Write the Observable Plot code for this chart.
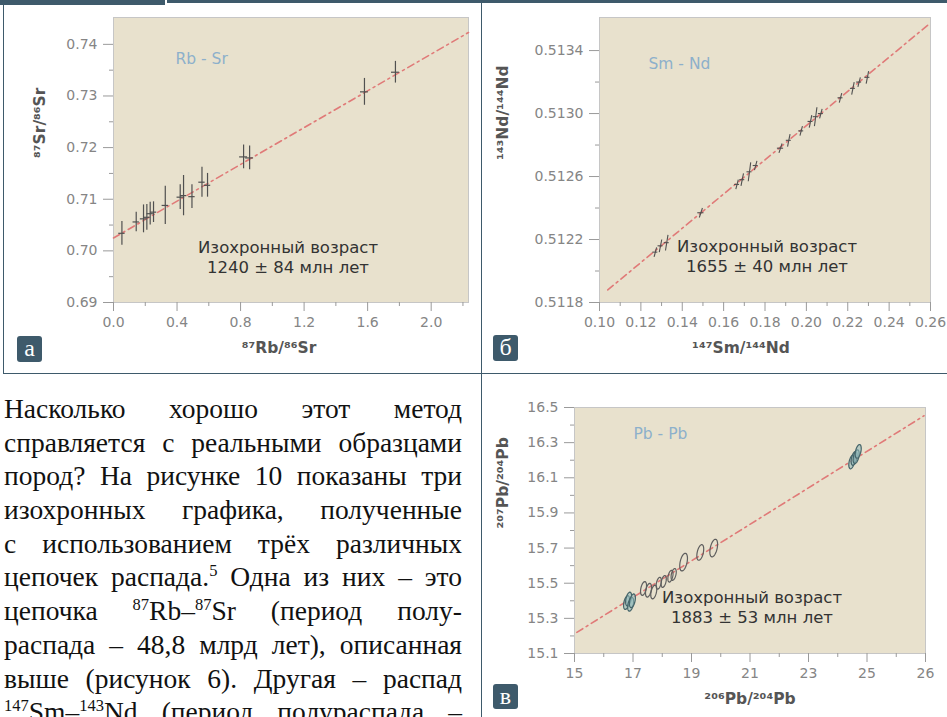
<!DOCTYPE html>
<html><head><meta charset="utf-8">
<script src="https://cdn.jsdelivr.net/npm/d3@7"></script>
<script src="https://cdn.jsdelivr.net/npm/@observablehq/plot@0.6"></script>
<style>
html,body{margin:0;padding:0;background:#fff;}
#page{position:relative;width:947px;height:717px;overflow:hidden;background:#fff;}
.bar{position:absolute;background:#3e5a6b;}
.lbl{position:absolute;width:25px;height:26px;background:#3e5a6b;border-radius:3px;color:#fff;font-family:"Liberation Serif";font-size:24px;line-height:24px;text-align:center;}
.chart{position:absolute;}
.chart svg{display:block;}
#para{position:absolute;left:4px;top:392px;width:458px;font-family:"Liberation Serif";font-size:27.5px;line-height:33.7px;color:#111;}
.ln{text-align:justify;text-align-last:justify;white-space:nowrap;height:33.7px;}
.ln sup{font-size:0.6em;line-height:0;vertical-align:baseline;position:relative;top:-0.62em;}
</style></head>
<body>
<div id="page">
  <div class="bar" style="left:0;top:0;width:165px;height:5px;"></div>
  <div class="bar" style="left:167px;top:0;width:780px;height:3px;"></div>
  <div class="bar" style="left:3px;top:0;width:1.3px;height:374px;"></div>
  <div class="bar" style="left:3px;top:373px;width:944px;height:1.3px;"></div>
  <div class="bar" style="left:481px;top:0;width:1.3px;height:717px;"></div>
  <div class="chart" id="ca" style="left:0;top:0;"></div>
  <div class="chart" id="cb" style="left:481px;top:0;"></div>
  <div class="chart" id="cc" style="left:481px;top:374px;"></div>
  <div class="lbl" style="left:17px;top:336px;">а</div>
  <div class="lbl" style="left:493px;top:335px;">б</div>
  <div class="lbl" style="left:493px;top:684px;height:25px;">в</div>
  <div id="para">
    <div class="ln">Насколько хорошо этот метод</div>
    <div class="ln">справляется с реальными образцами</div>
    <div class="ln">пород? На рисунке 10 показаны три</div>
    <div class="ln">изохронных графика, полученные</div>
    <div class="ln">с использованием трёх различных</div>
    <div class="ln">цепочек распада.<sup>5</sup> Одна из них – это</div>
    <div class="ln">цепочка <sup>87</sup>Rb–<sup>87</sup>Sr (период полу-</div>
    <div class="ln">распада – 48,8 млрд лет), описанная</div>
    <div class="ln">выше (рисунок 6). Другая – распад</div>
    <div class="ln"><sup>147</sup>Sm–<sup>143</sup>Nd (период полураспада –</div>
  </div>
</div>
<script>
// ---------- Rb-Sr ----------
const rbX    = [0.053, 0.143, 0.189, 0.210, 0.231, 0.252, 0.326, 0.420, 0.441, 0.494, 0.557, 0.592, 0.819, 0.857, 1.580, 1.775];
const rbY    = [0.7034, 0.7056, 0.7062, 0.7065, 0.7072, 0.7075, 0.7088, 0.7104, 0.7107, 0.7105, 0.7133, 0.7127, 0.7182, 0.7180, 0.7308, 0.7346];
const rbErrY = [0.0023, 0.0019, 0.0027, 0.0025, 0.0022, 0.0020, 0.0037, 0.0024, 0.0039, 0.0023, 0.0029, 0.0023, 0.0023, 0.0023, 0.0026, 0.0021];
const rbErrX = [0.02, 0.02, 0.02, 0.02, 0.02, 0.02, 0.02, 0.02, 0.02, 0.02, 0.02, 0.02, 0.025, 0.025, 0.025, 0.025];
const rbLineX = [0, 2.235];
const rbLineY = [0.7025, 0.7423];
const rbXTicks = [0, 0.4, 0.8, 1.2, 1.6, 2.0];
const rbXMinor = [0.2, 0.6, 1.0, 1.4, 1.8, 2.2];
const rbYTicks = [0.69, 0.70, 0.71, 0.72, 0.73, 0.74];
const rbYMinor = [0.695, 0.705, 0.715, 0.725, 0.735];

// ---------- Sm-Nd ----------
const smX    = [0.1270, 0.1295, 0.1325, 0.1490, 0.1665, 0.1690, 0.1725, 0.1755, 0.1875, 0.1915, 0.1975, 0.2020, 0.2045, 0.2070, 0.2165, 0.2225, 0.2255, 0.2295];
const smY    = [0.51212, 0.51216, 0.51218, 0.51237, 0.51255, 0.51258, 0.51263, 0.51267, 0.51278, 0.51283, 0.51289, 0.51295, 0.51298, 0.51300, 0.51310, 0.51316, 0.51320, 0.51323];
const smErrY = [0.00003, 0.00004, 0.00005, 0.00003, 0.00003, 0.00004, 0.00006, 0.00003, 0.00003, 0.00004, 0.00003, 0.00004, 0.00006, 0.00003, 0.00003, 0.00004, 0.00003, 0.00004];
const smErrX = [0.0012, 0.0012, 0.0012, 0.0015, 0.0012, 0.0012, 0.0012, 0.0012, 0.0015, 0.0012, 0.0012, 0.0012, 0.0012, 0.0012, 0.0012, 0.0012, 0.0012, 0.0012];
const smLineX = [0.104, 0.2595];
const smLineY = [0.51188, 0.51357];
const smXTicks = [0.10, 0.12, 0.14, 0.16, 0.18, 0.20, 0.22, 0.24, 0.26];
const smXMinor = [0.11, 0.13, 0.15, 0.17, 0.19, 0.21, 0.23, 0.25];
const smYTicks = [0.5118, 0.5122, 0.5126, 0.5130, 0.5134];
const smYMinor = [0.5120, 0.5124, 0.5128, 0.5132];

// ---------- Pb-Pb ----------
const pbX    = [16.78, 16.85, 16.92, 16.98, 17.36, 17.53, 17.71, 17.88, 18.05, 18.28, 18.39, 18.73, 19.30, 19.76, 24.48, 24.56, 24.63, 24.70];
const pbY    = [15.39, 15.41, 15.38, 15.40, 15.47, 15.46, 15.45, 15.50, 15.51, 15.54, 15.55, 15.62, 15.675, 15.70, 16.19, 16.21, 16.22, 16.25];
const pbR    = [7, 7, 7, 7, 7, 7, 7, 6, 6, 6, 6, 9, 8, 9, 7, 7, 7, 7];
const pbGroup = ["c", "c", "c", "c", "o", "o", "o", "o", "o", "o", "o", "o", "o", "o", "c", "c", "c", "c"];
const pbLineX = [15.08, 26.95];
const pbLineY = [15.22, 16.453];
const pbXTicks = [15, 17, 19, 21, 23, 25, 27];
const pbXTickLabels = ["15", "17", "19", "21", "23", "25", "26"];
const pbXMinor = [16, 18, 20, 22, 24, 26];
const pbYTicks = [15.1, 15.3, 15.5, 15.7, 15.9, 16.1, 16.3, 16.5];
const pbYMinor = [15.2, 15.4, 15.6, 15.8, 16.0, 16.2, 16.4];

const rbData = rbX.map((x, i) => ({x, y: rbY[i], ey: rbErrY[i], ex: rbErrX[i]}));
const smData = smX.map((x, i) => ({x, y: smY[i], ey: smErrY[i], ex: smErrX[i]}));
const pbData = pbX.map((x, i) => ({x, y: pbY[i], r: pbR[i], g: pbGroup[i]}));
const rbLine = rbLineX.map((x, i) => ({x, y: rbLineY[i]}));
const smLine = smLineX.map((x, i) => ({x, y: smLineY[i]}));
const pbLine = pbLineX.map((x, i) => ({x, y: pbLineY[i]}));

const ellipseSymbol = {
  draw(context, size) {
    const r = Math.sqrt(size / Math.PI);
    const rx = r * 0.38, ry = r, a = 0.22;
    const ca = Math.cos(a), sa = Math.sin(a);
    for (let i = 0; i <= 36; i++) {
      const t = (i / 36) * 2 * Math.PI;
      const ex = rx * Math.cos(t), ey = ry * Math.sin(t);
      const px = ex * ca - ey * sa, py = ex * sa + ey * ca;
      if (i === 0) context.moveTo(px, py); else context.lineTo(px, py);
    }
    context.closePath();
  }
};

const TICK = "#9a9a9a", TXT = "#858585";
const isoStyle = {stroke: "#e07a78", strokeWidth: 1.6, strokeDasharray: "7,4,2,4"};

function panel(o) {
  return Plot.plot({
    width: o.w, height: o.h,
    marginLeft: o.ml, marginRight: o.mr, marginTop: o.mt, marginBottom: o.mb,
    x: {domain: o.xDomain},
    y: {domain: o.yDomain},
    r: {type: "identity"},
    style: {fontFamily: "DejaVu Sans", fontSize: "14px", background: "transparent", overflow: "visible"},
    marks: [
      Plot.frame({fill: "#e8e1cd", stroke: "#c6c6c6"}),
      Plot.axisX(o.xTicks, {tickFormat: o.xFmt, tickSize: 9, tickPadding: 6, stroke: TICK, fill: TXT, label: null}),
      Plot.axisX(o.xMinor, {tickSize: 4, stroke: TICK, fill: "none", label: null}),
      Plot.axisY(o.yTicks, {tickFormat: o.yFmt, tickSize: 10, tickPadding: 6, stroke: TICK, fill: TXT, label: null}),
      Plot.axisY(o.yMinor, {tickSize: 4, stroke: TICK, fill: "none", label: null}),
      ...o.marks,
      Plot.text([o.tag], {frameAnchor: "top-left", dx: o.tagDx, dy: o.tagDy, textAnchor: "start", fill: "#8db0cb", fontSize: 15.5}),
      Plot.text([o.age], {frameAnchor: "bottom", dx: o.ageDx, dy: o.ageDy, fill: "#333", fontSize: 16.5, lineHeight: 1.2}),
      Plot.text([o.xLabel], {frameAnchor: "bottom", dx: o.xlDx, dy: o.xlDy, fill: "#555", fontSize: 15.5, fontWeight: "bold"}),
      Plot.text([o.yLabel], {frameAnchor: "left", rotate: -90, dx: o.ylDx, dy: o.ylDy, fill: "#555", fontSize: 15.5, fontWeight: "bold"})
    ]
  });
}

document.getElementById("ca").append(panel({
  w: 481, h: 372, ml: 113, mr: 13, mt: 17, mb: 70,
  xDomain: [0, 2.235], yDomain: [0.69, 0.7452],
  xTicks: rbXTicks, xMinor: rbXMinor, xFmt: d3.format(".1f"),
  yTicks: rbYTicks, yMinor: rbYMinor, yFmt: d3.format(".2f"),
  tag: "Rb - Sr", tagDx: 62, tagDy: 35,
  age: "Изохронный возраст\n1240 ± 84 млн лет", ageDx: -3, ageDy: -30,
  xLabel: "⁸⁷Rb/⁸⁶Sr", xlDx: -12, xlDy: 50,
  yLabel: "⁸⁷Sr/⁸⁶Sr", ylDx: -73, ylDy: -2,
  marks: [
    Plot.line(rbLine, {x: "x", y: "y", ...isoStyle}),
    Plot.ruleX(rbData, {x: "x", y1: d => d.y - d.ey, y2: d => d.y + d.ey, stroke: "#505050", strokeWidth: 1.2}),
    Plot.ruleY(rbData, {y: "y", x1: d => d.x - d.ex, x2: d => d.x + d.ex, stroke: "#505050", strokeWidth: 1.2})
  ]
}));

document.getElementById("cb").append(panel({
  w: 466, h: 372, ml: 118, mr: 17, mt: 17, mb: 70,
  xDomain: [0.10, 0.26], yDomain: [0.5118, 0.51361],
  xTicks: smXTicks, xMinor: smXMinor, xFmt: d3.format(".2f"),
  yTicks: smYTicks, yMinor: smYMinor, yFmt: d3.format(".4f"),
  tag: "Sm - Nd", tagDx: 49, tagDy: 40,
  age: "Изохронный возраст\n1655 ± 40 млн лет", ageDx: 2, ageDy: -31,
  xLabel: "¹⁴⁷Sm/¹⁴⁴Nd", xlDx: -24, xlDy: 50,
  yLabel: "¹⁴³Nd/¹⁴⁴Nd", ylDx: -96, ylDy: 0,
  marks: [
    Plot.line(smLine, {x: "x", y: "y", ...isoStyle}),
    Plot.link(smData, {x1: d => d.x - d.ex * 0.5, x2: d => d.x + d.ex * 0.5, y1: d => d.y - d.ey, y2: d => d.y + d.ey, stroke: "#505050", strokeWidth: 1.1}),
    Plot.ruleY(smData, {y: "y", x1: d => d.x - d.ex, x2: d => d.x + d.ex, stroke: "#505050", strokeWidth: 1.1})
  ]
}));

document.getElementById("cc").append(panel({
  w: 466, h: 343, ml: 93, mr: 22, mt: 33, mb: 64,
  xDomain: [15, 27], yDomain: [15.1, 16.5],
  xTicks: pbXTicks, xMinor: pbXMinor, xFmt: d => pbXTickLabels[pbXTicks.indexOf(d)],
  yTicks: pbYTicks, yMinor: pbYMinor, yFmt: d3.format(".1f"),
  tag: "Pb - Pb", tagDx: 59, tagDy: 20,
  age: "Изохронный возраст\n1883 ± 53 млн лет", ageDx: 2, ageDy: -31,
  xLabel: "²⁰⁶Pb/²⁰⁴Pb", xlDx: 0, xlDy: 50,
  yLabel: "²⁰⁷Pb/²⁰⁴Pb", ylDx: -71, ylDy: -2,
  marks: [
    Plot.line(pbLine, {x: "x", y: "y", ...isoStyle}),
    Plot.dot(pbData, {x: "x", y: "y", r: "r", symbol: ellipseSymbol,
      fill: d => d.g === "c" ? "#8fb9bb" : "none", fillOpacity: 0.55,
      stroke: d => d.g === "c" ? "#46656a" : "#5e5e5e", strokeWidth: 1.2})
  ]
}));
</script>
</body></html>
